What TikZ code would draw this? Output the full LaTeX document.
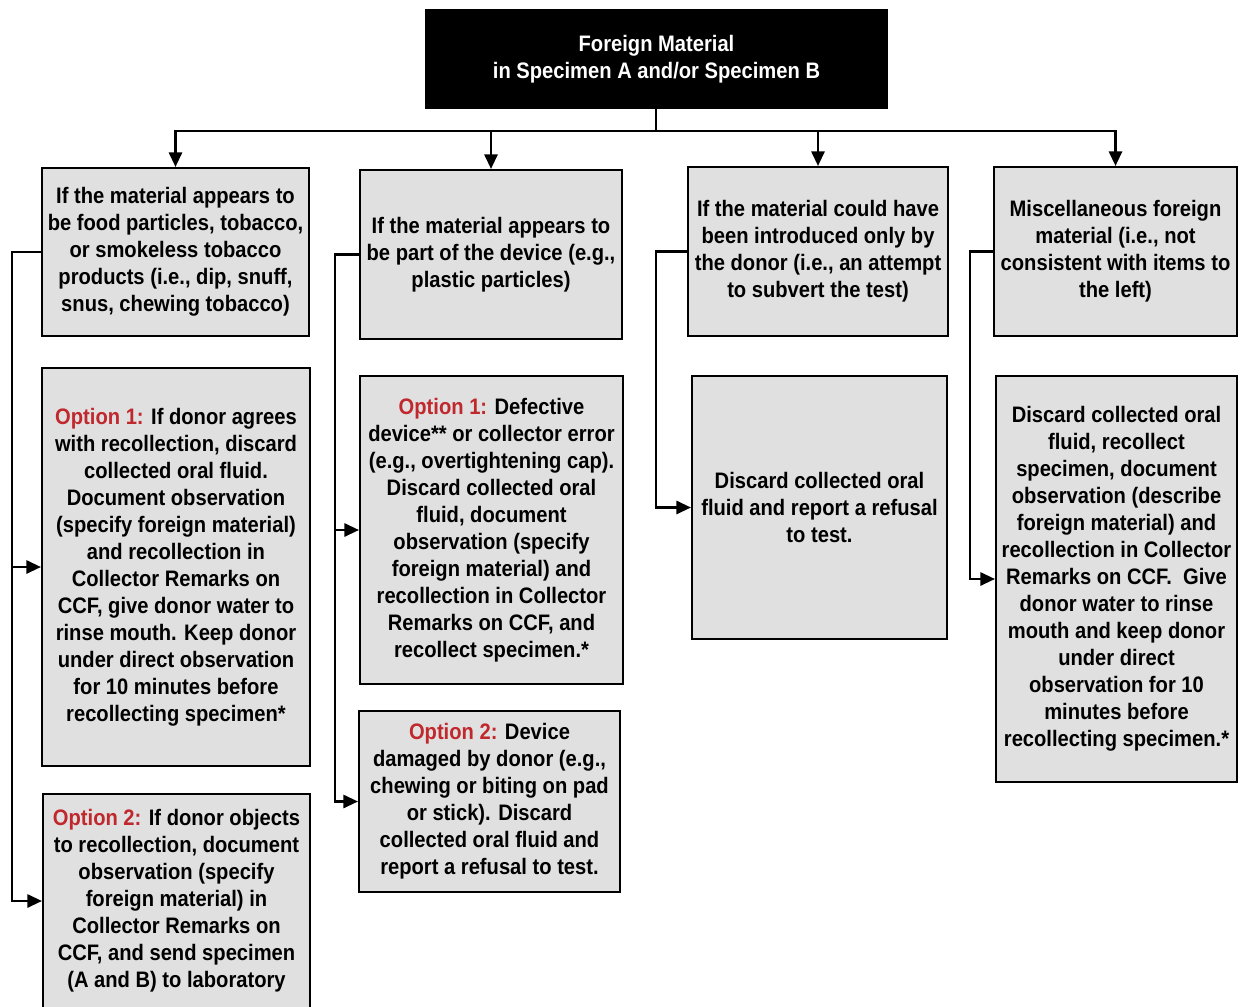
\documentclass[tikz,border=0pt]{standalone}
\usepackage{fontspec}
\newfontfamily\narb{Liberation Sans Bold}[FakeStretch=0.9]
\usetikzlibrary{arrows.meta}
\definecolor{boxgray}{RGB}{224,224,224}
\definecolor{optred}{RGB}{192,40,45}
\newcommand{\opt}[1]{\textcolor{optred}{#1}}
\def\pu{0.75pt}
\begin{document}
\begin{tikzpicture}[x=0.75pt,y=-0.75pt,
  gbox/.style={draw=black,line width=1.6pt,fill=boxgray,inner sep=0pt,align=center,
    font=\narb\fontsize{16.8}{20.25}\selectfont},
  topbox/.style={fill=black,inner sep=0pt,align=center,text=white,
    font=\narb\fontsize{16.8}{20.25}\selectfont},
  conn/.style={line width=1.6pt},
  arr/.style={line width=1.6pt,-{Triangle[length=11pt,width=10pt]}}]
\path[fill=white] (0,0) rectangle (1245,1006);
\useasboundingbox (0,0) rectangle (1245,1006);

\node[topbox,minimum width=463*\pu,minimum height=100*\pu] (top) at (656.5,59)
  {Foreign Material\\in Specimen A and/or Specimen B};

\node[gbox,minimum width=267*\pu,minimum height=168*\pu] (a1) at (175.5,252)
  {If the material appears to\\be food particles, tobacco,\\or smokeless tobacco\\products (i.e., dip, snuff,\\snus, chewing tobacco)};
\node[gbox,minimum width=268*\pu,minimum height=398*\pu] (a2) at (176,567)
  {\opt{Option 1:} If donor agrees\\with recollection, discard\\collected oral fluid.\\Document observation\\(specify foreign material)\\and recollection in\\Collector Remarks on\\CCF, give donor water to\\rinse mouth. Keep donor\\under direct observation\\for 10 minutes before\\recollecting specimen*};
\node[gbox,minimum width=267*\pu,minimum height=214*\pu] (a3) at (176.5,901)
  {\opt{Option 2:} If donor objects\\to recollection, document\\observation (specify\\foreign material) in\\Collector Remarks on\\CCF, and send specimen\\(A and B) to laboratory};

\node[gbox,minimum width=262*\pu,minimum height=169*\pu] (b1) at (491,254.5)
  {If the material appears to\\be part of the device (e.g.,\\plastic particles)};
\node[gbox,minimum width=263*\pu,minimum height=308*\pu] (b2) at (491.5,530)
  {\opt{Option 1:} Defective\\device** or collector error\\(e.g., overtightening cap).\\Discard collected oral\\fluid, document\\observation (specify\\foreign material) and\\recollection in Collector\\Remarks on CCF, and\\recollect specimen.*};
\node[gbox,minimum width=261*\pu,minimum height=181*\pu] (b3) at (489.5,801.5)
  {\opt{Option 2:} Device\\damaged by donor (e.g.,\\chewing or biting on pad\\or stick). Discard\\collected oral fluid and\\report a refusal to test.};

\node[gbox,minimum width=260*\pu,minimum height=169*\pu] (c1) at (818,251.5)
  {If the material could have\\been introduced only by\\the donor (i.e., an attempt\\to subvert the test)};
\node[gbox,minimum width=255*\pu,minimum height=263*\pu] (c2) at (819.5,507.5)
  {Discard collected oral\\fluid and report a refusal\\to test.};

\node[gbox,minimum width=243*\pu,minimum height=169*\pu] (d1) at (1115.5,251.5)
  {Miscellaneous foreign\\material (i.e., not\\consistent with items to\\the left)};
\node[gbox,minimum width=241*\pu,minimum height=406*\pu] (d2) at (1116.5,579)
  {Discard collected oral\\fluid, recollect\\specimen, document\\observation (describe\\foreign material) and\\recollection in Collector\\Remarks on CCF.\ \ Give\\donor water to rinse\\mouth and keep donor\\under direct\\observation for 10\\minutes before\\recollecting specimen.*};

% top bus
\coordinate (bus) at (656,131);
\draw[conn] (top.south -| bus) -- (bus);
\draw[arr] (bus) -| (a1.north);
\draw[arr] (bus) -| (b1.north);
\draw[arr] (bus) -| (c1.north);
\draw[arr] (bus) -| (d1.north);

% column 1
\coordinate (la) at (12,0);
\draw[arr] (a1.west) -| (la |- a3.west) -- (a3.west);
\draw[arr] (la |- a2.west) -- (a2.west);
% column 2
\coordinate (lb) at (335,0);
\draw[arr] (b1.west) -| (lb |- b3.west) -- (b3.west);
\draw[arr] (lb |- b2.west) -- (b2.west);
% column 3
\coordinate (lc) at (656,0);
\draw[arr] (c1.west) -| (lc |- c2.west) -- (c2.west);
% column 4
\coordinate (ld) at (970,0);
\draw[arr] (d1.west) -| (ld |- d2.west) -- (d2.west);
\end{tikzpicture}
\end{document}
